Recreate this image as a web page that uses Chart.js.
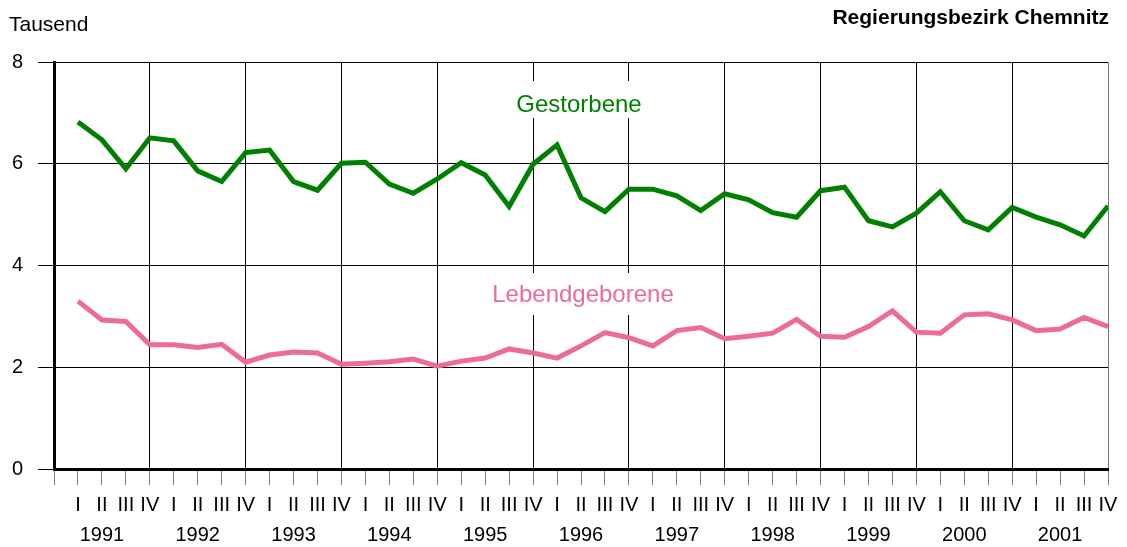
<!DOCTYPE html>
<html>
<head>
<meta charset="utf-8">
<script src="https://cdn.jsdelivr.net/npm/chart.js@4/dist/chart.umd.min.js"></script>
<style>
html,body{margin:0;padding:0;background:#fff;}
#wrap{width:1127px;height:547px;position:relative;}
</style>
</head>
<body>
<div id="wrap"><canvas id="c" width="1127" height="547"></canvas></div>
<script>
const years = ['1991','1992','1993','1994','1995','1996','1997','1998','1999','2000','2001'];
const quarters = ['I','II','III','IV'];
const gestorbene = [
  6.82, 6.47, 5.90, 6.51,
  6.45, 5.86, 5.65, 6.22,
  6.27, 5.65, 5.48, 6.01,
  6.03, 5.60, 5.42, 5.70,
  6.02, 5.78, 5.16, 5.99,
  6.37, 5.33, 5.06, 5.50,
  5.50, 5.37, 5.08, 5.41,
  5.29, 5.04, 4.95, 5.47,
  5.54, 4.88, 4.76, 5.03,
  5.45, 4.88, 4.70, 5.14,
  4.95, 4.80, 4.58, 5.17
];
const lebendgeborene = [
  3.30, 2.93, 2.90, 2.44,
  2.44, 2.39, 2.45, 2.10,
  2.24, 2.30, 2.28, 2.06,
  2.08, 2.11, 2.16, 2.02,
  2.12, 2.18, 2.36, 2.28,
  2.18, 2.42, 2.68, 2.58,
  2.42, 2.72, 2.78, 2.56,
  2.61, 2.67, 2.94, 2.61,
  2.59, 2.80, 3.11, 2.69,
  2.67, 3.03, 3.05, 2.93,
  2.72, 2.75, 2.98, 2.80
];
const yTicks = [0, 2, 4, 6, 8];

const FONT = "'Liberation Sans', Arial, sans-serif";
const GREEN = '#008000';
const PINK = '#EC6A9C';
const nQ = years.length * quarters.length;

const toPts = arr => arr.map((v, i) => ({x: i + 1, y: v}));

const labelPlugin = {
  id: 'labels',
  beforeDatasetsDraw(chart) {
    const ctx = chart.ctx;
    ctx.save();
    ctx.font = '24px ' + FONT;
    ctx.textAlign = 'center';
    ctx.textBaseline = 'middle';
    const items = [
      {t: 'Gestorbene', x: 579, y: 105, c: GREEN, top: 81, bot: 118},
      {t: 'Lebendgeborene', x: 583, y: 295, c: PINK, top: 273, bot: 315}
    ];
    items.forEach(it => {
      const w = ctx.measureText(it.t).width;
      ctx.fillStyle = '#fff';
      ctx.fillRect(it.x - w / 2 - 10, it.top, w + 20, it.bot - it.top);
      ctx.fillStyle = it.c;
      ctx.fillText(it.t, it.x, it.y);
    });
    ctx.restore();
  },
  afterDraw(chart) {
    const ctx = chart.ctx;
    ctx.save();
    ctx.fillStyle = '#000';
    ctx.textBaseline = 'middle';
    ctx.font = '21px ' + FONT;
    ctx.textAlign = 'left';
    ctx.fillText('Tausend', 9, 25);
    ctx.font = 'bold 21px ' + FONT;
    ctx.textAlign = 'right';
    ctx.fillText('Regierungsbezirk Chemnitz', 1109, 18);
    ctx.restore();
  }
};

new Chart(document.getElementById('c'), {
  type: 'line',
  data: {
    datasets: [
      {label: 'Gestorbene', data: toPts(gestorbene), borderColor: GREEN, borderWidth: 5, pointRadius: 0, tension: 0, fill: false},
      {label: 'Lebendgeborene', data: toPts(lebendgeborene), borderColor: PINK, borderWidth: 5, pointRadius: 0, tension: 0, fill: false}
    ]
  },
  options: {
    responsive: false,
    animation: false,
    devicePixelRatio: 1,
    layout: {padding: {top: 62, right: 19, left: 0, bottom: 0}},
    plugins: {legend: {display: false}, tooltip: {enabled: false}, title: {display: false}},
    scales: {
      x: {
        type: 'linear', position: 'bottom', min: 0, max: nQ,
        afterBuildTicks: axis => { axis.ticks = Array.from({length: nQ + 1}, (_, i) => ({value: i})); },
        afterFit: s => { s.height = 44; },
        ticks: {
          autoSkip: false, maxRotation: 0, minRotation: 0, padding: 8,
          color: '#000', font: {size: 20, family: FONT},
          callback: (v) => v === 0 ? '' : quarters[(v - 1) % 4]
        },
        grid: {
          color: c => (c.tick && c.tick.value % 4 === 0) ? (c.tick.value === nQ ? '#777' : '#000') : 'rgba(0,0,0,0)',
          tickColor: '#808080', tickLength: 16, lineWidth: 1, drawTicks: true
        },
        border: {color: '#000', width: 3}
      },
      xYear: {
        type: 'linear', position: 'bottom', min: 0, max: nQ,
        afterBuildTicks: axis => { axis.ticks = years.map((_, i) => ({value: 4 * i + 2})); },
        afterFit: s => { s.height = 34; },
        ticks: {
          autoSkip: false, maxRotation: 0, minRotation: 0, padding: 10,
          color: '#000', font: {size: 20, family: FONT},
          callback: (v, i) => years[i]
        },
        grid: {display: false, drawTicks: false},
        border: {display: false}
      },
      y: {
        type: 'linear', min: 0, max: 8,
        afterBuildTicks: axis => { axis.ticks = yTicks.map(v => ({value: v})); },
        afterFit: s => { s.width = 54; },
        ticks: {color: '#000', padding: 15, font: {size: 20, family: FONT}},
        grid: {color: '#000', lineWidth: 1, tickColor: '#000', tickLength: 16},
        border: {color: '#000', width: 3}
      }
    }
  },
  plugins: [labelPlugin]
});
</script>
</body>
</html>
